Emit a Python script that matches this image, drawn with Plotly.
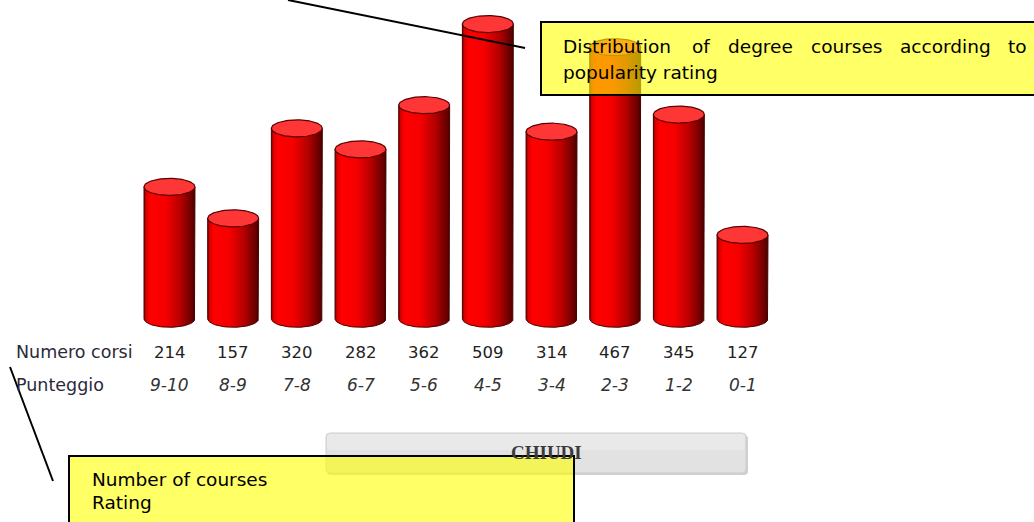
import numpy as np
import plotly.graph_objects as go

# Course counts per popularity rating band
ratings = ["9-10", "8-9", "7-8", "6-7", "5-6", "4-5", "3-4", "2-3", "1-2", "0-1"]
courses = [214, 157, 320, 282, 362, 509, 314, 467, 345, 127]

row_label_counts = "Numero corsi"
row_label_ratings = "Punteggio"
button_label = "CHIUDI"
note_top_line1 = ["Distribution", "of", "degree", "courses", "according", "to"]
note_top_line2 = "popularity rating"
note_bottom = ["Number of courses", "Rating"]

W, H = 1034, 522

# axis geometry (pixels per unit)
X_STEP = 63.67
X_FIRST = 169.5
Y_PX = 0.552
Y_ZERO = 305.0
x_range = [-X_FIRST / X_STEP, (W - X_FIRST) / X_STEP]
y_range = [(Y_ZERO - H) / Y_PX, Y_ZERO / Y_PX]

CYL_HW = 0.40            # half width of a cylinder, category units
CAP_RY = 8.5 / Y_PX      # vertical radius of the elliptical caps
CYL_FLOOR = -25.0        # where the cylinders stand

BODY_SCALE = [
    [0.0, "#7a0000"], [0.04, "#d80000"], [0.12, "#ff0000"],
    [0.42, "#f60000"], [0.72, "#b40000"], [0.96, "#600000"], [1.0, "#3a0000"],
]


def px(x):
    return x / W


def py(y):
    return 1 - y / H


fig = go.Figure()

t_half = np.linspace(0, np.pi, 48)
t_full = np.linspace(0, 2 * np.pi, 96)
for i, v in enumerate(courses):
    xs = [i - CYL_HW, i - CYL_HW, i + CYL_HW, i + CYL_HW]
    ys = [CYL_FLOOR, v, v, CYL_FLOOR]
    xs += list(i + CYL_HW * np.cos(t_half))
    ys += list(CYL_FLOOR - CAP_RY * np.sin(t_half))
    fig.add_trace(go.Scatter(
        x=xs, y=ys, mode="lines", fill="toself",
        fillgradient=dict(type="horizontal", colorscale=BODY_SCALE),
        line=dict(color="#4a0000", width=1), hoverinfo="skip", showlegend=False,
    ))
    fig.add_trace(go.Scatter(
        x=list(i + CYL_HW * np.cos(t_full)),
        y=list(v + CAP_RY * np.sin(t_full)),
        mode="lines", fill="toself", fillcolor="#ff3636",
        line=dict(color="#5a0000", width=1.2), hoverinfo="skip", showlegend=False,
    ))

annotations = []
FAM = "DejaVu Sans, Verdana, sans-serif"
label_font = dict(family=FAM, size=17.5, color="#2a2a3a")
row1_y = py(352)
row2_y = py(385)
annotations.append(dict(x=px(14), y=row1_y, xref="paper", yref="paper", text=row_label_counts,
                        showarrow=False, xanchor="left", yanchor="middle", font=label_font))
annotations.append(dict(x=px(14), y=row2_y, xref="paper", yref="paper", text=row_label_ratings,
                        showarrow=False, xanchor="left", yanchor="middle", font=label_font))
for i, (v, r) in enumerate(zip(courses, ratings)):
    annotations.append(dict(x=i, y=row1_y, xref="x", yref="paper", text=str(v), showarrow=False,
                            xanchor="center", yanchor="middle",
                            font=dict(family=FAM, size=16.5, color="#222222")))
    annotations.append(dict(x=i, y=row2_y, xref="x", yref="paper", text=f"<i>{r}</i>", showarrow=False,
                            xanchor="center", yanchor="middle",
                            font=dict(family=FAM, size=17, color="#333333")))

# close button
annotations.append(dict(x=px(546), y=py(452), xref="paper", yref="paper", text=f"<b>{button_label}</b>",
                        showarrow=False, xanchor="center", yanchor="middle",
                        font=dict(family="Liberation Serif, serif", size=19, color="#3a3a3a")))

note_font = dict(family="DejaVu Sans, sans-serif", size=18.5, color="#000000")
word_x = [561, 690, 726, 809, 898, 1006]
for wx, word in zip(word_x, note_top_line1):
    annotations.append(dict(x=px(wx), y=py(47), xref="paper", yref="paper", text=word, showarrow=False,
                            xanchor="left", yanchor="middle", font=note_font))
annotations.append(dict(x=px(561), y=py(72), xref="paper", yref="paper", text=note_top_line2,
                        showarrow=False, xanchor="left", yanchor="middle", font=note_font))
for k, line in enumerate(note_bottom):
    annotations.append(dict(x=px(90), y=py(479 + 23 * k), xref="paper", yref="paper", text=line,
                            showarrow=False, xanchor="left", yanchor="middle", font=note_font))


def rounded_rect(x0, y0, x1, y1, r):
    X0, X1 = px(x0), px(x1)
    Y0, Y1 = py(y0), py(y1)
    rx, ry = r / W, r / H
    return (f"M {X0 + rx},{Y0} L {X1 - rx},{Y0} Q {X1},{Y0} {X1},{Y0 - ry} "
            f"L {X1},{Y1 + ry} Q {X1},{Y1} {X1 - rx},{Y1} L {X0 + rx},{Y1} "
            f"Q {X0},{Y1} {X0},{Y1 + ry} L {X0},{Y0 - ry} Q {X0},{Y0} {X0 + rx},{Y0} Z")


shapes = [
    dict(type="path", path=rounded_rect(327, 435, 748, 475, 4), xref="paper", yref="paper",
         fillcolor="#d0d0d0", line=dict(width=0), layer="above"),
    dict(type="path", path=rounded_rect(326, 433, 746, 473, 4), xref="paper", yref="paper",
         fillcolor="#e2e2e2", line=dict(color="#cdcdcd", width=1), layer="above"),
    dict(type="path", path=rounded_rect(327, 434, 745, 450, 3), xref="paper", yref="paper",
         fillcolor="#e9e9e9", line=dict(width=0), layer="above"),
    dict(type="rect", x0=px(541), x1=px(1040), y0=py(22), y1=py(95), xref="paper", yref="paper",
         fillcolor="rgba(255,255,0,0.6)", line=dict(color="#000000", width=2), layer="above"),
    dict(type="rect", x0=px(69), x1=px(574), y0=py(456), y1=py(530), xref="paper", yref="paper",
         fillcolor="rgba(255,255,0,0.6)", line=dict(color="#000000", width=2), layer="above"),
    dict(type="line", x0=px(288), y0=py(0), x1=px(525), y1=py(48), xref="paper", yref="paper",
         line=dict(color="#000000", width=2), layer="above"),
    dict(type="line", x0=px(10), y0=py(367), x1=px(53), y1=py(481), xref="paper", yref="paper",
         line=dict(color="#000000", width=2), layer="above"),
]

fig.update_layout(
    width=W, height=H,
    margin=dict(l=0, r=0, t=0, b=0),
    paper_bgcolor="#ffffff", plot_bgcolor="#ffffff",
    xaxis=dict(range=x_range, visible=False, fixedrange=True),
    yaxis=dict(range=y_range, visible=False, fixedrange=True),
    annotations=annotations, shapes=shapes, showlegend=False,
)

fig.write_html("out.html", config={"displayModeBar": False})
